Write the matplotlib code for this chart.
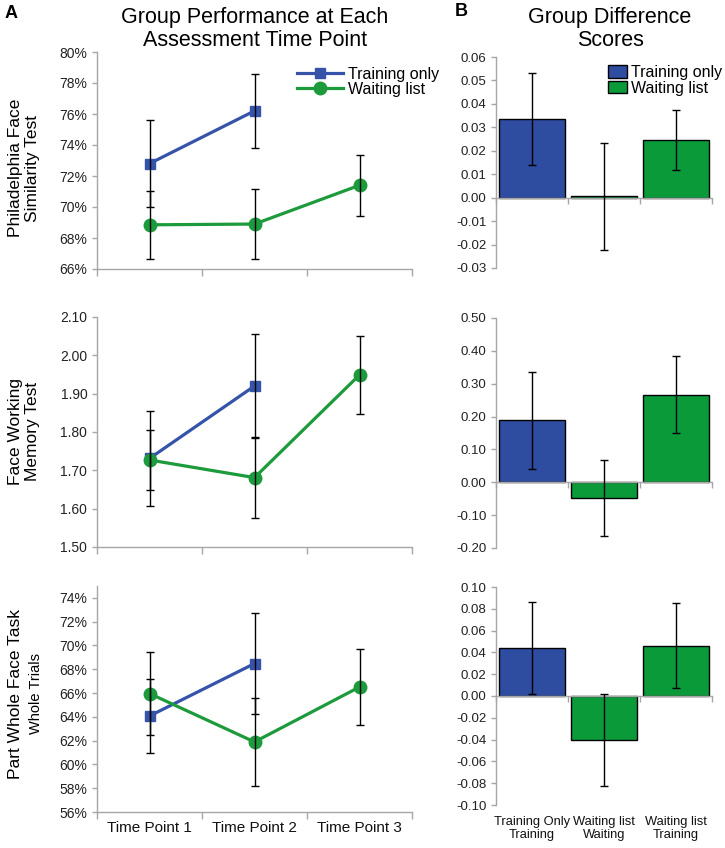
import numpy as np
import matplotlib
matplotlib.use("Agg")
import matplotlib.pyplot as plt
from matplotlib.ticker import FuncFormatter, FixedLocator
from matplotlib.patches import Patch
from matplotlib.lines import Line2D

plt.rcParams['font.family'] = ['Liberation Sans', 'DejaVu Sans']

# ---- data ----
time_points = ['Time Point 1', 'Time Point 2', 'Time Point 3']

# A: group performance, training only group (two time points)
pfst_train = [0.728, 0.762]
pfst_train_err = [0.028, 0.024]
pfst_wait = [0.6885, 0.689, 0.714]
pfst_wait_err = [0.022, 0.0223, 0.0195]

fwmt_train = [1.731, 1.920]
fwmt_train_err = [0.123, 0.135]
fwmt_wait = [1.727, 1.681, 1.949]
fwmt_wait_err = [0.078, 0.105, 0.102]

pwft_train = [0.6407, 0.6848]
pwft_train_err = [0.031, 0.0428]
pwft_wait = [0.6596, 0.6189, 0.6651]
pwft_wait_err = [0.035, 0.0367, 0.032]

# B: group difference scores
diff_labels = ['Training Only\nTraining', 'Waiting list\nWaiting', 'Waiting list\nTraining']
diff_groups = ['Training only', 'Waiting list', 'Waiting list']
pfst_diff = [0.0336, 0.0005, 0.0245]
pfst_diff_err = [0.0197, 0.0230, 0.0129]
fwmt_diff = [0.189, -0.047, 0.267]
fwmt_diff_err = [0.148, 0.116, 0.118]
pwft_diff = [0.0440, -0.0403, 0.0462]
pwft_diff_err = [0.0425, 0.0423, 0.0390]

BLUE = '#2F4DA0'
GREEN = '#0A9A3A'
LBLUE = '#3553A8'
LGREEN = '#1C9A3C'
SPINE = '#A6A6A6'
group_color = {'Training only': BLUE, 'Waiting list': GREEN}

W, H = 725, 848
fig = plt.figure(figsize=(W / 100, H / 100), dpi=100)


def px_axes(x0, x1, top, bottom):
    return fig.add_axes([x0 / W, 1 - bottom / H, (x1 - x0) / W, (bottom - top) / H])


def style_axes(ax):
    for s in ['top', 'right']:
        ax.spines[s].set_visible(False)
    for s in ['left', 'bottom']:
        ax.spines[s].set_color(SPINE)
        ax.spines[s].set_linewidth(1.0)
    ax.tick_params(axis='both', colors=SPINE, labelcolor='#222222', length=3.5,
                   width=1.0, direction='out')
    ax.tick_params(axis='y', labelsize=10)
    ax.set_xlim(-0.5, 2.5)
    ax.xaxis.set_major_locator(FixedLocator([-0.5, 0.5, 1.5, 2.5]))
    ax.set_xticklabels([])


def line_panel(ax, train, train_err, wait, wait_err, ylim, yticks, fmt):
    style_axes(ax)
    xt = np.arange(len(train))
    xw = np.arange(len(wait))
    ax.plot(xt, train, color=LBLUE, lw=2.3, marker='s', ms=7, zorder=3)
    ax.plot(xw, wait, color=LGREEN, lw=2.3, marker='o', ms=9, zorder=3)
    ax.errorbar(xt, train, yerr=train_err, fmt='none', ecolor='black',
                elinewidth=1.0, capsize=3, capthick=1.0, zorder=4)
    ax.errorbar(xw, wait, yerr=wait_err, fmt='none', ecolor='black',
                elinewidth=1.0, capsize=3, capthick=1.0, zorder=4)
    ax.set_ylim(*ylim)
    ax.set_yticks(yticks)
    ax.yaxis.set_major_formatter(FuncFormatter(fmt))
    ax.tick_params(axis='x', length=5)


def bar_panel(ax, vals, errs, ylim, yticks):
    style_axes(ax)
    x = np.arange(len(vals))
    ax.bar(x, vals, width=0.92, color=[group_color[g] for g in diff_groups],
           edgecolor='black', linewidth=1.0, zorder=2)
    ax.errorbar(x, vals, yerr=errs, fmt='none', ecolor='black',
                elinewidth=1.0, capsize=3, capthick=1.0, zorder=4)
    ax.set_ylim(*ylim)
    ax.set_yticks(yticks)
    ax.yaxis.set_major_formatter(FuncFormatter(lambda v, p: f'{v:.2f}'))
    ax.spines['bottom'].set_position(('data', 0))
    ax.spines['bottom'].set_zorder(3)
    ax.tick_params(axis='y', labelsize=9.5)
    ax.tick_params(axis='x', length=4)


pct = lambda v, p: f'{v * 100:.0f}%'
two = lambda v, p: f'{v:.2f}'

# ---- column A ----
a1 = px_axes(97, 412, 52, 269)
line_panel(a1, pfst_train, pfst_train_err, pfst_wait, pfst_wait_err,
           (0.66, 0.80), np.arange(0.66, 0.801, 0.02), pct)
a2 = px_axes(97, 412, 317, 547)
line_panel(a2, fwmt_train, fwmt_train_err, fwmt_wait, fwmt_wait_err,
           (1.5, 2.1), np.arange(1.5, 2.101, 0.1), two)
a3 = px_axes(97, 412, 586, 812)
line_panel(a3, pwft_train, pwft_train_err, pwft_wait, pwft_wait_err,
           (0.56, 0.75), np.arange(0.56, 0.741, 0.02), pct)
for i, lab in enumerate(time_points):
    a3.text(i, -0.04, lab, transform=a3.get_xaxis_transform(), ha='center',
            va='top', fontsize=11, color='#111111')

# ---- column B ----
b1 = px_axes(496, 712, 57, 268)
bar_panel(b1, pfst_diff, pfst_diff_err, (-0.03, 0.06), np.arange(-0.03, 0.0601, 0.01))
b2 = px_axes(496, 712, 318, 548)
bar_panel(b2, fwmt_diff, fwmt_diff_err, (-0.2, 0.5), np.arange(-0.2, 0.501, 0.1))
b3 = px_axes(496, 712, 587, 805)
bar_panel(b3, pwft_diff, pwft_diff_err, (-0.1, 0.1), np.arange(-0.1, 0.1001, 0.02))
for i, lab in enumerate(diff_labels):
    b3.text(i, -0.05, lab, transform=b3.get_xaxis_transform(), ha='center',
            va='top', fontsize=9.3, color='#111111', linespacing=1.15)

# ---- legends ----
line_handles = [
    Line2D([], [], color=LBLUE, lw=2.3, marker='s', ms=7),
    Line2D([], [], color=LGREEN, lw=2.3, marker='o', ms=9),
]
fig.legend(line_handles, ['Training only', 'Waiting list'], loc='upper left',
           bbox_to_anchor=(297 / W, 1 - 67 / H), frameon=False, fontsize=11.5,
           handlelength=2.9, handletextpad=0.3, labelspacing=0.0,
           borderpad=0, borderaxespad=0)
bar_handles = [Patch(facecolor=BLUE, edgecolor='black', lw=1.0),
               Patch(facecolor=GREEN, edgecolor='black', lw=1.0)]
fig.legend(bar_handles, ['Training only', 'Waiting list'], loc='upper left',
           bbox_to_anchor=(608 / W, 1 - 65 / H), frameon=False, fontsize=11.5,
           handlelength=1.2, handleheight=0.8, handletextpad=0.25,
           labelspacing=0.05, borderpad=0, borderaxespad=0)

# ---- titles and labels ----
fig.text(255 / W, 1 - 29 / H, 'Group Performance at Each\nAssessment Time Point',
         ha='center', va='center', fontsize=15.5, linespacing=1.15)
fig.text(610 / W, 1 - 29 / H, 'Group Difference\nScores',
         ha='center', va='center', fontsize=15.5, linespacing=1.15)
fig.text(5 / W, 1 - 14 / H, 'A', ha='left', va='center', fontsize=13, fontweight='bold')
fig.text(455 / W, 1 - 12 / H, 'B', ha='left', va='center', fontsize=13, fontweight='bold')

fig.text(24 / W, 1 - 168 / H, 'Philadelphia Face\nSimilarity Test', rotation=90,
         ha='center', va='center', fontsize=12.5, linespacing=1.2)
fig.text(24 / W, 1 - 431 / H, 'Face Working\nMemory Test', rotation=90,
         ha='center', va='center', fontsize=12.5, linespacing=1.2)
fig.text(16 / W, 1 - 694 / H, 'Part Whole Face Task', rotation=90,
         ha='center', va='center', fontsize=12.5)
fig.text(36 / W, 1 - 694 / H, 'Whole Trials', rotation=90,
         ha='center', va='center', fontsize=10.5)

fig.savefig('out.png', dpi=100)
